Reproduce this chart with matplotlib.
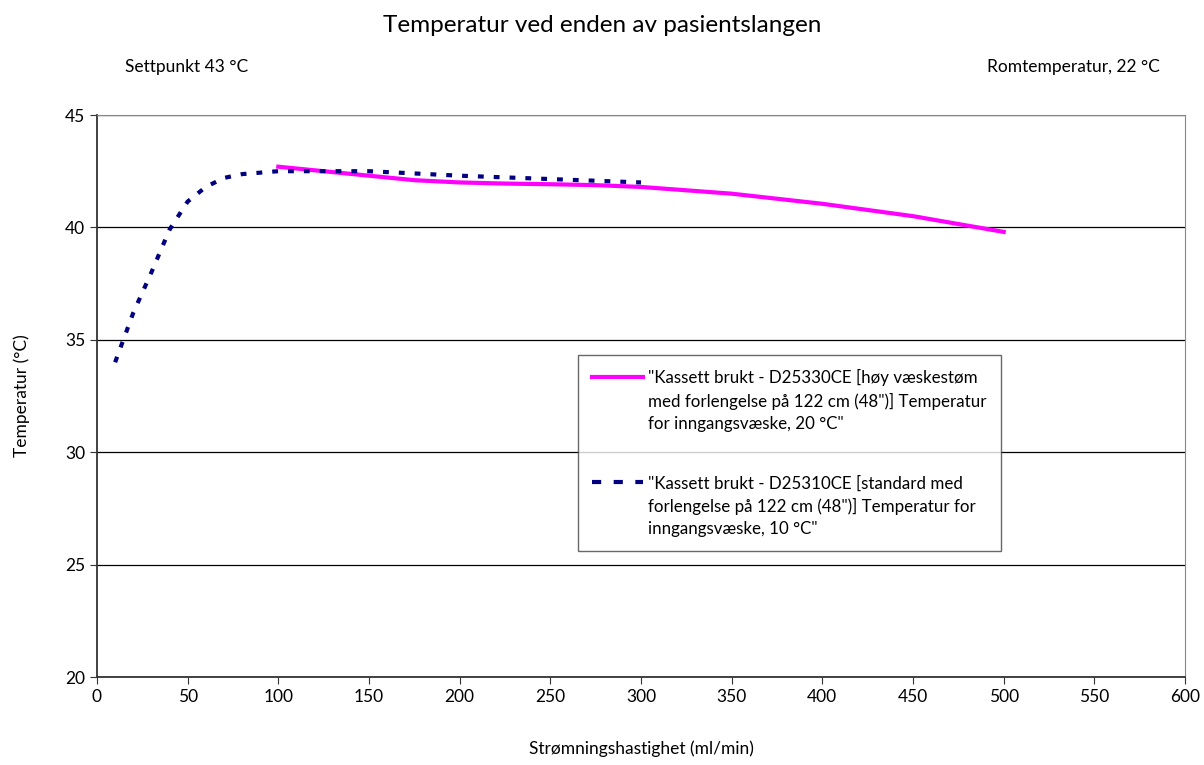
import numpy as np
import matplotlib.pyplot as plt

plt.rcParams['font.family'] = ['Lato', 'DejaVu Sans']

# data
flow_d253 = [100, 125, 150, 175, 200, 225, 250, 275, 300, 350, 400, 450, 500]
temp_d253 = [42.7, 42.5, 42.3, 42.1, 42.0, 41.95, 41.92, 41.88, 41.8, 41.5, 41.05, 40.5, 39.8]

flow_d2531 = [10, 20, 30, 40, 50, 60, 70, 80, 100, 150, 200, 250, 300]
temp_d2531 = [34.0, 36.2, 38.0, 39.9, 41.15, 41.8, 42.2, 42.37, 42.5, 42.5, 42.3, 42.15, 42.0]

label_1 = '"Kassett brukt - D25330CE [høy væskestøm\nmed forlengelse på 122 cm (48")] Temperatur\nfor inngangsvæske, 20 °C"'
label_2 = '"Kassett brukt - D25310CE [standard med\nforlengelse på 122 cm (48")] Temperatur for\ninngangsvæske, 10 °C"'

fig = plt.figure(figsize=(12.04, 7.65), dpi=100)
ax = fig.add_axes([97 / 1204, 1 - 677 / 765, 1088 / 1204, 562 / 765])

ax.plot(flow_d253, temp_d253, color='#FF00FF', lw=3, label=label_1, zorder=3)
ax.plot(flow_d2531, temp_d2531, color='#000080', lw=3, ls=(0, (1.4, 2.4)), label=label_2, zorder=4)

ax.set_xlim(0, 600)
ax.set_ylim(20, 45)
ax.set_xticks(range(0, 601, 50))
ax.set_yticks(range(20, 46, 5))
ax.yaxis.grid(True, color='black', lw=0.9)
ax.set_axisbelow(True)
ax.tick_params(labelsize=12.5, length=5, direction='out', color='#333333')
for s in ['top', 'right']:
    ax.spines[s].set_color('#888888')
for s in ['left', 'bottom']:
    ax.spines[s].set_color('#333333')
    ax.spines[s].set_linewidth(1.3)

ax.set_xlabel('Strømningshastighet (ml/min)', fontsize=12.5, labelpad=26)
ax.set_ylabel('Temperatur (°C)', fontsize=12.5, labelpad=25)

fig.text(0.5, 1 - 25 / 765, 'Temperatur ved enden av pasientslangen', ha='center', va='center', fontsize=17.5)
fig.text(125 / 1204, 1 - 67 / 765, 'Settpunkt 43 °C', ha='left', va='center', fontsize=12.5)
fig.text(1160 / 1204, 1 - 67 / 765, 'Romtemperatur, 22 °C', ha='right', va='center', fontsize=12.5)

leg = ax.legend(loc='upper left', bbox_to_anchor=(0.442, 0.573), fontsize=12.2, frameon=True,
                fancybox=False, edgecolor='#444444', handlelength=3.0, handletextpad=0.3,
                labelspacing=2.6, borderpad=0.85, borderaxespad=0)
leg.get_frame().set_linewidth(1.0)
for t in leg.get_texts():
    t.set_linespacing(1.45)
# put the legend sample next to the first text line, like the original
for ln in leg.get_lines():
    ln.set_ydata(np.asarray(ln.get_ydata()) + 17.6)
leg.get_lines()[1].set_linestyle((0, (2.2, 3.0)))

fig.savefig('out.png', dpi=100)
